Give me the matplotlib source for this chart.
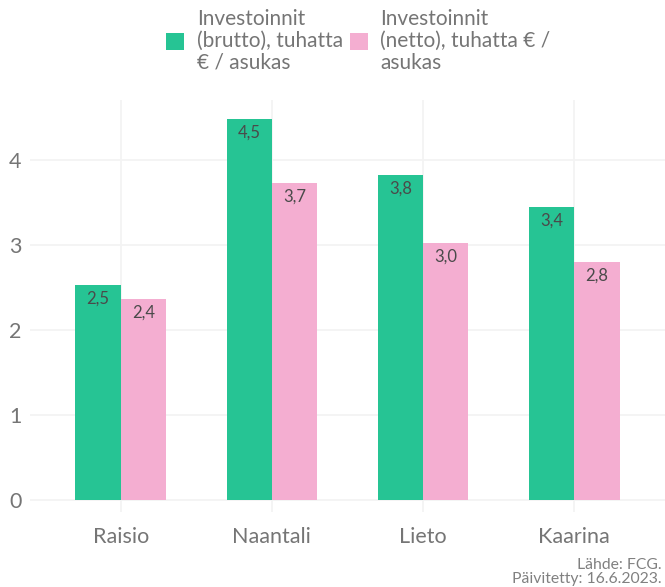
import matplotlib
matplotlib.use("Agg")
import matplotlib.pyplot as plt
import numpy as np

cities = ["Raisio", "Naantali", "Lieto", "Kaarina"]
gross = [2.53, 4.48, 3.82, 3.44]
net = [2.36, 3.72, 3.02, 2.80]
series_labels = ["Investoinnit\n(brutto), tuhatta\n€ / asukas",
                 "Investoinnit\n(netto), tuhatta € /\nasukas"]
yticks = [0, 1, 2, 3, 4]
caption = "Lähde: FCG.\nPäivitetty: 16.6.2023."

GREEN = "#26c494"
PINK = "#f4aed1"
GRID = "#f3f3f3"
TEXT = "#757575"

plt.rcParams["font.family"] = ["Lato", "DejaVu Sans"]

fig = plt.figure(figsize=(6.65, 5.87), dpi=100)
ax = fig.add_axes([30 / 665, 1 - 512 / 587, 1 - 30 / 665, 412 / 587])

x = np.arange(len(cities))
w = 0.3
b1 = ax.bar(x - w / 2, gross, width=w, color=GREEN, label=series_labels[0], zorder=2)
b2 = ax.bar(x + w / 2, net, width=w, color=PINK, label=series_labels[1], zorder=2)

for bars in (b1, b2):
    for r in bars:
        v = r.get_height()
        ax.annotate(f"{v:.1f}".replace(".", ","),
                    (r.get_x() + r.get_width() / 2, v),
                    xytext=(0, -4), textcoords="offset points",
                    ha="center", va="top", fontsize=12, color="#4a4a4a", zorder=3)

ax.set_xlim(-0.6, 3.6)
ax.set_ylim(-0.14, 4.7)
ax.set_yticks(yticks)
ax.set_yticklabels([str(t) for t in yticks])
ax.set_xticks(x)
ax.set_xticklabels(cities)
ax.tick_params(axis="both", length=0, labelsize=15.5, labelcolor=TEXT)
ax.tick_params(axis="x", pad=11)
ax.tick_params(axis="y", pad=6)
ax.grid(True, color=GRID, linewidth=1.3, zorder=0)
ax.set_axisbelow(True)
for s in ax.spines.values():
    s.set_visible(False)

leg = fig.legend(handles=[b1, b2], labels=series_labels, ncol=2,
                 loc="upper center", bbox_to_anchor=(0.539, 1.016),
                 frameon=False, fontsize=15, handlelength=0.85, handleheight=0.85,
                 handletextpad=0.6, columnspacing=0.35, labelspacing=0.2)
for t in leg.get_texts():
    t.set_color(TEXT)
    t.set_linespacing(1.1)

fig.text(1 - 3 / 665, 1 / 587, caption, ha="right", va="bottom",
         fontsize=11.3, color="#808080", linespacing=1.0)

fig.savefig("out.png", dpi=100)
